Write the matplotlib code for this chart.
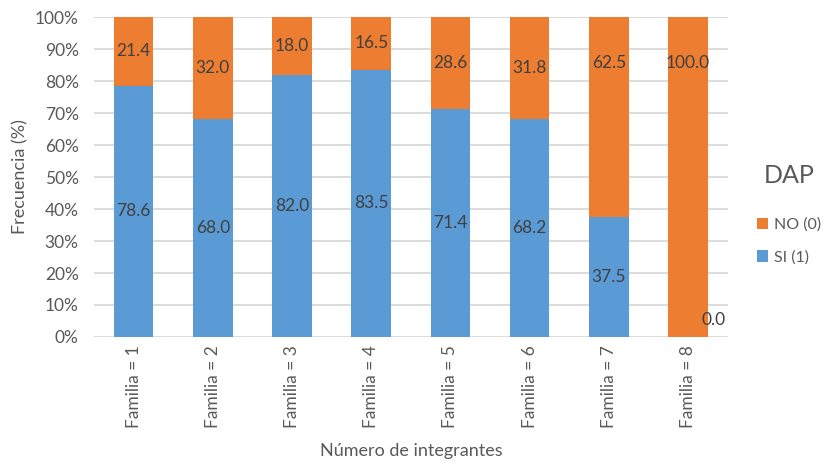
import matplotlib.pyplot as plt
from matplotlib.ticker import PercentFormatter

plt.rcParams['font.family'] = ['Lato', 'DejaVu Sans']

# Frecuencia (%) por número de integrantes de la familia
categorias = ["Familia = 1", "Familia = 2", "Familia = 3", "Familia = 4",
              "Familia = 5", "Familia = 6", "Familia = 7", "Familia = 8"]
si_1 = [78.6, 68.0, 82.0, 83.5, 71.4, 68.2, 37.5, 0.0]
no_0 = [21.4, 32.0, 18.0, 16.5, 28.6, 31.8, 62.5, 100.0]

AZUL = "#5B9BD5"
NARANJA = "#ED7D31"
GRIS_TXT = "#595959"
TXT_ETIQ = "#404040"

# etiquetas que se movieron a mano (serie, indice) -> altura en %
etiq_manual = {("no", 6): 85.6, ("no", 7): 85.6}

fig = plt.figure(figsize=(8.25, 4.61), dpi=100)
ax = fig.add_axes([0.114, 0.269, 0.768, 0.694])

x = range(len(categorias))
b_si = ax.bar(x, si_1, width=0.5, color=AZUL, label="SI (1)", zorder=2)
b_no = ax.bar(x, no_0, width=0.5, bottom=si_1, color=NARANJA, label="NO (0)", zorder=2)

for i in x:
    if si_1[i] > 0:
        ax.text(i, si_1[i] / 2, f"{si_1[i]:.1f}", ha="center", va="center",
                fontsize=12.5, color=TXT_ETIQ, zorder=3)
    else:
        ax.annotate(f"{si_1[i]:.1f}", (i, 0), xytext=(26, 17), textcoords="offset pixels",
                    ha="center", va="center", fontsize=12.5, color=TXT_ETIQ, zorder=3)
    y_no = etiq_manual.get(("no", i), si_1[i] + no_0[i] / 2)
    ax.text(i, y_no, f"{no_0[i]:.1f}", ha="center", va="center",
            fontsize=12.5, color=TXT_ETIQ, zorder=3)

ax.set_xlim(-0.5, len(categorias) - 0.5)
ax.set_ylim(0, 100)
ax.set_yticks(range(0, 101, 10))
ax.yaxis.set_major_formatter(PercentFormatter(decimals=0))
ax.set_xticks(list(x))
ax.set_xticklabels(categorias, rotation=90)
ax.tick_params(axis="both", length=0, labelsize=12.5, colors=GRIS_TXT)
ax.tick_params(axis="x", pad=6)
ax.tick_params(axis="y", pad=11)
ax.grid(axis="y", color="#D9D9D9", linewidth=1.3, zorder=0)
for s in ax.spines.values():
    s.set_visible(False)

ax.set_ylabel("Frecuencia (%)", fontsize=13, color=GRIS_TXT)
ax.yaxis.set_label_coords(-0.104, 0.5)
ax.set_xlabel("Número de integrantes", fontsize=13, color=GRIS_TXT, labelpad=11)

leg = fig.legend(handles=[b_no, b_si], loc="center left", bbox_to_anchor=(0.9, 0.535),
                 frameon=False, fontsize=11.5, handlelength=0.7, handleheight=0.7,
                 handletextpad=0.35, labelspacing=1.15, title="DAP", title_fontsize=18)
leg.get_title().set_color(GRIS_TXT)
leg._legend_box.sep = 22
for t in leg.get_texts():
    t.set_color(GRIS_TXT)

fig.savefig("out.png", dpi=100)
